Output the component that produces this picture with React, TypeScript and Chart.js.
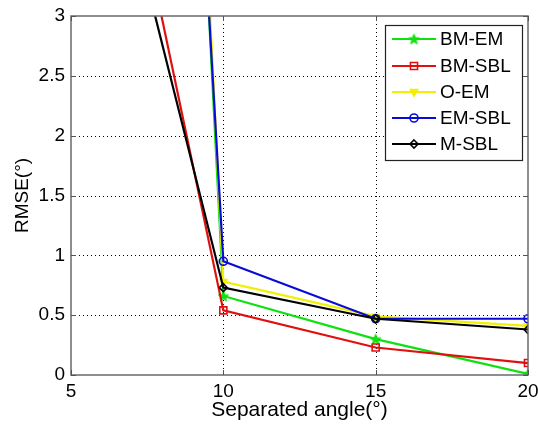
import React, { useEffect, useRef } from "react";
import { Chart, registerables } from "chart.js";

Chart.register(...registerables);

const xValues = [5, 10, 15, 20];
const seriesNames = ["BM-EM", "BM-SBL", "O-EM", "EM-SBL", "M-SBL"];
const bmEm = [25.5, 0.66, 0.3, 0.01];
const bmSbl = [6.6, 0.54, 0.23, 0.1];
const oEm = [26.5, 0.78, 0.49, 0.41];
const emSbl = [23.0, 0.95, 0.47, 0.47];
const mSbl = [5.8, 0.73, 0.47, 0.38];
const xTicks = [5, 10, 15, 20];
const yTicks = [0, 0.5, 1, 1.5, 2, 2.5, 3];

const colors = ["#10e010", "#e01010", "#f0f000", "#0a0ad8", "#000000"];
const markers = ["star5", "rect", "triangle", "circle", "rectRot"];
const FONT = "Arial, 'Liberation Sans', sans-serif";

function starPath(ctx: CanvasRenderingContext2D, cx: number, cy: number, r: number) {
  ctx.beginPath();
  for (let k = 0; k < 10; k++) {
    const rr = k % 2 === 0 ? r : r * 0.42;
    const a = -Math.PI / 2 + (k * Math.PI) / 5;
    const px = cx + Math.cos(a) * rr;
    const py = cy + Math.sin(a) * rr;
    if (k === 0) ctx.moveTo(px, py);
    else ctx.lineTo(px, py);
  }
  ctx.closePath();
}

function makeStarCanvas(color: string, r: number) {
  const c = document.createElement("canvas");
  const s = Math.ceil(r * 2 + 4);
  c.width = s;
  c.height = s;
  const g = c.getContext("2d")!;
  starPath(g, s / 2, s / 2 + 0.5, r);
  g.fillStyle = color;
  g.fill();
  g.strokeStyle = color;
  g.lineWidth = 1;
  g.stroke();
  return c;
}

export default function App() {
  const ref = useRef<HTMLCanvasElement>(null);
  useEffect(() => {
    const starImg = makeStarCanvas(colors[0], 5.5);
    const all = [bmEm, bmSbl, oEm, emSbl, mSbl];
    const datasets = all.map((vals, i) => ({
      label: seriesNames[i],
      data: xValues.map((x, j) => ({ x, y: vals[j] })),
      borderColor: colors[i],
      backgroundColor: i === 2 ? colors[i] : "rgba(0,0,0,0)",
      borderWidth: 2.2,
      pointStyle: i === 0 ? (starImg as any) : markers[i],
      pointRotation: i === 2 ? 180 : 0,
      pointRadius: i === 1 ? 5 : i === 0 ? 5 : 4,
      pointBorderWidth: 1.6,
      pointBorderColor: colors[i],
      pointBackgroundColor: i === 2 ? colors[i] : "rgba(0,0,0,0)",
      tension: 0,
      order: 5 - i,
    }));

    const framePlugin = {
      id: "frame",
      beforeDatasetsDraw(chart: any) {
        const { ctx, chartArea: a, scales } = chart;
        ctx.save();
        ctx.strokeStyle = "#000";
        ctx.lineWidth = 1;
        ctx.setLineDash([1, 3]);
        xTicks.forEach((t) => {
          if (t === 5 || t === 20) return;
          const px = Math.round(scales.x.getPixelForValue(t)) + 0.5;
          ctx.beginPath();
          ctx.moveTo(px, a.top);
          ctx.lineTo(px, a.bottom);
          ctx.stroke();
        });
        yTicks.forEach((t) => {
          if (t === 0 || t === 3) return;
          const py = Math.round(scales.y.getPixelForValue(t)) + 0.5;
          ctx.beginPath();
          ctx.moveTo(a.left, py);
          ctx.lineTo(a.right, py);
          ctx.stroke();
        });
        ctx.restore();
      },
      afterDatasetsDraw(chart: any) {
        const { ctx, chartArea: a, scales } = chart;
        ctx.save();
        ctx.strokeStyle = "#6a6a6a";
        ctx.lineWidth = 1.5;
        ctx.strokeRect(a.left, a.top, a.right - a.left, a.bottom - a.top);
        ctx.strokeStyle = "#555";
        ctx.lineWidth = 1;
        const tl = 5;
        xTicks.forEach((t) => {
          const px = Math.round(scales.x.getPixelForValue(t)) + 0.5;
          ctx.beginPath();
          ctx.moveTo(px, a.bottom);
          ctx.lineTo(px, a.bottom - tl);
          ctx.moveTo(px, a.top);
          ctx.lineTo(px, a.top + tl);
          ctx.stroke();
        });
        yTicks.forEach((t) => {
          const py = Math.round(scales.y.getPixelForValue(t)) + 0.5;
          ctx.beginPath();
          ctx.moveTo(a.left, py);
          ctx.lineTo(a.left + tl, py);
          ctx.moveTo(a.right, py);
          ctx.lineTo(a.right - tl, py);
          ctx.stroke();
        });

        // legend box
        const bx = 385, by = 25, bw = 137, bh = 135;
        ctx.fillStyle = "#fff";
        ctx.fillRect(bx, by, bw, bh);
        ctx.strokeStyle = "#222";
        ctx.lineWidth = 1.2;
        ctx.strokeRect(bx + 0.5, by + 0.5, bw, bh);
        const rows = [39, 66, 92, 118, 144];
        seriesNames.forEach((name, i) => {
          const y = rows[i];
          ctx.strokeStyle = colors[i];
          ctx.lineWidth = 2.2;
          ctx.beginPath();
          ctx.moveTo(392, y);
          ctx.lineTo(436, y);
          ctx.stroke();
          ctx.lineWidth = 1.6;
          ctx.fillStyle = i === 2 ? colors[i] : "rgba(0,0,0,0)";
          ctx.strokeStyle = colors[i];
          if (i === 0) {
            ctx.drawImage(starImg, 414 - starImg.width / 2, y - starImg.height / 2);
          } else {
            drawMarker(ctx, markers[i], 414, y, datasets[i].pointRadius as number, datasets[i].pointRotation as number);
          }
          ctx.fillStyle = "#000";
          ctx.font = "19px " + FONT;
          ctx.textBaseline = "middle";
          ctx.textAlign = "left";
          ctx.fillText(name, 440, y + 1);
        });
        ctx.restore();
      },
    };

    const chart = new Chart(ref.current!, {
      type: "line",
      data: { datasets: datasets as any },
      options: {
        animation: false,
        responsive: false,
        maintainAspectRatio: false,
        layout: { padding: { left: 0, top: 16, right: 10, bottom: 6 } },
        plugins: { legend: { display: false }, tooltip: { enabled: false } },
        scales: {
          x: {
            type: "linear",
            min: 5,
            max: 20,
            afterBuildTicks: (s: any) => {
              s.ticks = xTicks.map((v) => ({ value: v }));
            },
            afterFit: (s: any) => {
              s.height = 429 - 375 - 6;
              s.paddingRight = 0;
              s.paddingLeft = 0;
            },
            grid: { display: false, drawTicks: false },
            border: { display: false },
            ticks: {
              color: "#000",
              font: { size: 19, family: FONT },
              padding: 5,
              maxRotation: 0,
              callback: (v: any) => String(v),
            },
            title: {
              display: true,
              text: "Separated angle(°)",
              color: "#000",
              font: { size: 21, family: FONT },
              padding: { top: 0, bottom: 0 },
            },
          },
          y: {
            type: "linear",
            min: 0,
            max: 3,
            afterBuildTicks: (s: any) => {
              s.ticks = yTicks.map((v) => ({ value: v }));
            },
            afterFit: (s: any) => {
              s.width = 71;
              s.paddingTop = 0;
              s.paddingBottom = 0;
            },
            grid: { display: false, drawTicks: false },
            border: { display: false },
            ticks: {
              color: "#000",
              font: { size: 19, family: FONT },
              padding: 6,
              callback: (v: any) => String(v),
            },
            title: {
              display: true,
              text: "RMSE(°)",
              color: "#000",
              font: { size: 19, family: FONT },
              padding: { top: 11, bottom: 0 },
            },
          },
        },
      },
      plugins: [framePlugin],
    });
    return () => chart.destroy();
  }, []);

  return (
    <div style={{ position: "absolute", left: 0, top: 0, width: 538, height: 429, background: "#fff" }}>
      <canvas ref={ref} width={538} height={429} style={{ display: "block" }} />
    </div>
  );
}

function drawMarker(ctx: CanvasRenderingContext2D, style: string, x: number, y: number, r: number, rot: number) {
  ctx.save();
  ctx.translate(x, y);
  ctx.rotate((rot * Math.PI) / 180);
  ctx.beginPath();
  if (style === "circle") {
    ctx.arc(0, 0, r, 0, Math.PI * 2);
    ctx.stroke();
  } else if (style === "rect") {
    const s = r * Math.SQRT1_2 * 2;
    ctx.rect(-s / 2, -s / 2, s, s);
    ctx.stroke();
  } else if (style === "rectRot") {
    ctx.moveTo(0, -r);
    ctx.lineTo(r, 0);
    ctx.lineTo(0, r);
    ctx.lineTo(-r, 0);
    ctx.closePath();
    ctx.stroke();
  } else if (style === "triangle") {
    ctx.moveTo(0, -r);
    ctx.lineTo(r * 0.9, r * 0.6);
    ctx.lineTo(-r * 0.9, r * 0.6);
    ctx.closePath();
    ctx.fill();
    ctx.stroke();
  }
  ctx.restore();
}
